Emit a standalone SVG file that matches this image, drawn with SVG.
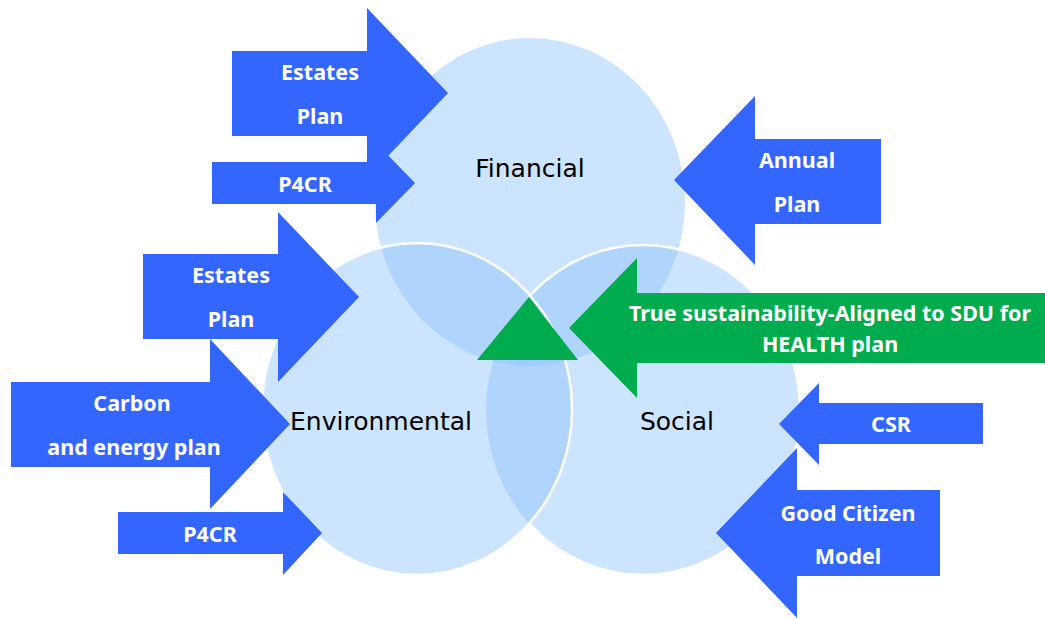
<svg xmlns="http://www.w3.org/2000/svg" width="1045" height="619" viewBox="0 0 1045 619">
<style>
.circ{fill:#8EC3FA;fill-opacity:0.45}
.arrow{fill:#3366FF}
.green{fill:#00AC4E}
.wt{font-family:"Noto Sans","Open Sans",sans-serif;font-weight:bold;font-size:21.5px;fill:#FFFFFF;text-anchor:middle}
.lbl{font-family:"DejaVu Sans",sans-serif;font-size:25px;fill:#000000;text-anchor:middle}
.ring{fill:none;stroke:#FFFFFF;stroke-width:2.5}
</style>
<defs>
<mask id="outEnv">
<rect x="0" y="0" width="1045" height="619" fill="#fff"/>
<ellipse cx="417" cy="409" rx="155" ry="166" fill="#000"/>
</mask>
</defs>
<rect width="1045" height="619" fill="#FFFFFF"/>
<g id="circle-financial">
<ellipse class="circ" cx="530" cy="202" rx="155" ry="164"/>
<text class="lbl" x="530" y="177">Financial</text>
</g>
<g id="circle-social">
<ellipse class="circ" cx="643" cy="410" rx="157" ry="165"/>
</g>
<g id="circle-environmental">
<ellipse class="circ" cx="417" cy="409" rx="155" ry="166"/>
<ellipse class="ring" cx="417" cy="409" rx="155" ry="166"/>
</g>
<ellipse class="ring" cx="643" cy="410" rx="157" ry="165" mask="url(#outEnv)"/>
<text class="lbl" x="381" y="430">Environmental</text>
<text class="lbl" x="677" y="430">Social</text>
<g id="connectors">
<polygon class="green" points="529,297 477,360 578,360"/>
</g>
<g id="p4cr-fin">
<polygon class="arrow" points="212,162 376,162 376,143 415,183 376,223 376,204 212,204"/>
<text class="wt" x="305" y="192">P4CR</text>
</g>
<g id="estates-fin">
<polygon class="arrow" points="232,51 367,51 367,8 448,93 367,178 367,136 232,136"/>
<text class="wt" x="320" y="80">Estates</text>
<text class="wt" x="320" y="124">Plan</text>
</g>
<g id="annual-plan">
<polygon class="arrow" points="881,139 755,139 755,96 674,180 755,265 755,224 881,224"/>
<text class="wt" x="797" y="168">Annual</text>
<text class="wt" x="797" y="212">Plan</text>
</g>
<g id="estates-env">
<polygon class="arrow" points="143,254 278,254 278,212 359,297 278,382 278,339 143,339"/>
<text class="wt" x="231" y="283">Estates</text>
<text class="wt" x="231" y="327">Plan</text>
</g>
<g id="carbon">
<polygon class="arrow" points="11,382 210,382 210,339 290,424 210,509 210,467 11,467"/>
<text class="wt" x="132" y="411">Carbon</text>
<text class="wt" x="134" y="455">and energy plan</text>
</g>
<g id="p4cr-env">
<polygon class="arrow" points="118,512 283,512 283,492 322,533 283,575 283,554 118,554"/>
<text class="wt" x="210" y="542">P4CR</text>
</g>
<g id="true-sustainability">
<polygon class="green" points="1045,293 637,293 637,258 569,328 637,398 637,363 1045,363"/>
<text class="wt" x="830" y="321">True sustainability-Aligned to SDU for</text>
<text class="wt" x="830" y="352">HEALTH plan</text>
</g>
<g id="csr">
<polygon class="arrow" points="983,403 819,403 819,383 779,424 819,465 819,444 983,444"/>
<text class="wt" x="891" y="432">CSR</text>
</g>
<g id="good-citizen">
<polygon class="arrow" points="940,490 797,490 797,448 716,533 797,618 797,576 940,576"/>
<text class="wt" x="848" y="521">Good Citizen</text>
<text class="wt" x="848" y="564">Model</text>
</g>
</svg>
